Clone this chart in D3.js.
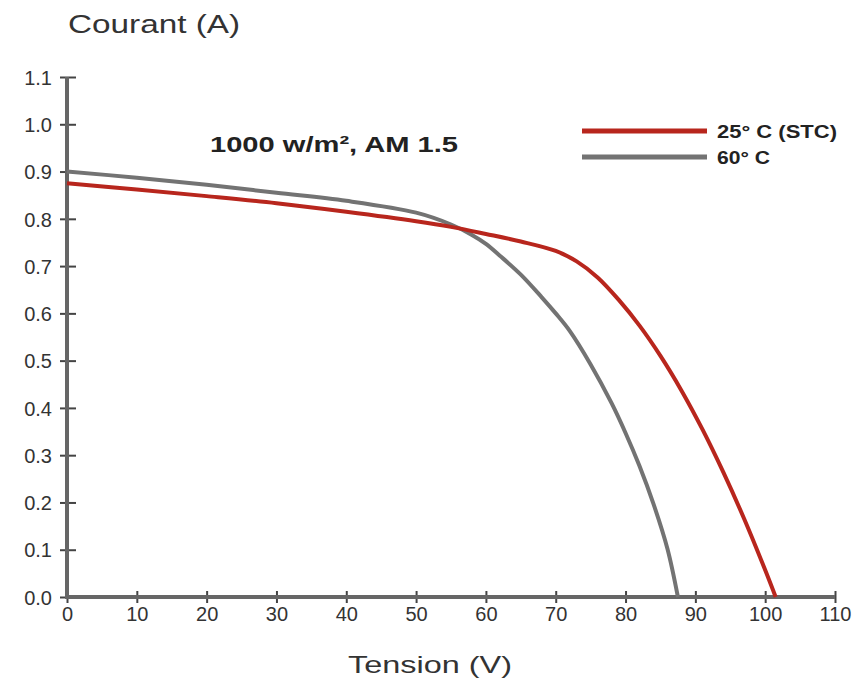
<!DOCTYPE html>
<html>
<head>
<meta charset="utf-8">
<script src="https://cdn.jsdelivr.net/npm/d3@7"></script>
<style>
  html, body { margin: 0; padding: 0; background: #fff; }
  svg { display: block; }
</style>
</head>
<body>
<svg id="chart" width="856" height="681"></svg>
<script>
// ---- data ----
const xTicks = [0, 10, 20, 30, 40, 50, 60, 70, 80, 90, 100, 110];
const yTicks = [0, 0.1, 0.2, 0.3, 0.4, 0.5, 0.6, 0.7, 0.8, 0.9, 1.0, 1.1];

const v25 = [0, 10, 20, 30, 40, 50, 55, 60, 65, 70, 73, 76, 79, 82, 85, 88, 91, 94, 97, 100, 101.5];
const i25 = [0.875, 0.862, 0.848, 0.833, 0.815, 0.795, 0.783, 0.768, 0.752, 0.732, 0.71, 0.676, 0.629, 0.574, 0.51, 0.437, 0.355, 0.264, 0.165, 0.057, 0];

const v60 = [0, 10, 20, 30, 40, 50, 55, 58, 60, 62, 65, 68, 70, 72, 75, 78, 80, 82, 84, 86, 87.5];
const i60 = [0.9, 0.887, 0.872, 0.855, 0.838, 0.813, 0.788, 0.766, 0.747, 0.722, 0.682, 0.634, 0.6, 0.563, 0.492, 0.41, 0.347, 0.277, 0.197, 0.102, 0];

const seriesNames = ["25° C (STC)", "60° C"];
const seriesColors = ["#b8261d", "#737373"];
const annotation = "1000 w/m², AM 1.5";
const yTitle = "Courant (A)";
const xTitle = "Tension (V)";

// ---- drawing ----
const svg = d3.select("#chart");
const x = d3.scaleLinear().domain([0, 110]).range([67, 835]);
const y = d3.scaleLinear().domain([0, 1.1]).range([597, 77]);

const font = "'Liberation Sans', Arial, Helvetica, sans-serif";

// Y axis
const yAxis = d3.axisLeft(y).tickValues(yTicks).tickFormat(d3.format(".1f")).tickSizeOuter(0).tickSizeInner(6);
const gy = svg.append("g").attr("transform", `translate(${x(0)},0)`).call(yAxis);
gy.select(".domain").remove();
gy.selectAll(".tick line").attr("x1", -7).attr("x2", 9).attr("stroke", "#444").attr("stroke-width", 2);
gy.selectAll(".tick text").attr("font-family", font).attr("font-size", 20).attr("fill", "#333").attr("x", -15).attr("dy", "0.36em");

// X axis
const xAxis = d3.axisBottom(x).tickValues(xTicks).tickFormat(d3.format("d")).tickSizeOuter(0).tickSizeInner(6);
const gx = svg.append("g").attr("transform", `translate(0,${y(0)})`).call(xAxis);
gx.select(".domain").remove();
gx.selectAll(".tick line").attr("y1", -6).attr("y2", 6).attr("stroke", "#444").attr("stroke-width", 2);
gx.selectAll(".tick text").attr("font-family", font).attr("font-size", 20).attr("fill", "#333").attr("y", 10);

// axis lines
svg.append("line").attr("x1", x(0)).attr("x2", x(0)).attr("y1", y(1.1)).attr("y2", y(0) + 2)
  .attr("stroke", "#666").attr("stroke-width", 4);
svg.append("line").attr("x1", x(0) - 2).attr("x2", x(110)).attr("y1", y(0)).attr("y2", y(0))
  .attr("stroke", "#666").attr("stroke-width", 4);

// curves
const line = d3.line().x(d => x(d[0])).y(d => y(d[1])).curve(d3.curveCatmullRom.alpha(0.5));
const series = [d3.zip(v60, i60), d3.zip(v25, i25)];
const colors = [seriesColors[1], seriesColors[0]];
series.forEach((s, k) => {
  svg.append("path").datum(s).attr("d", line)
    .attr("fill", "none").attr("stroke", colors[k]).attr("stroke-width", 4)
    .attr("stroke-linejoin", "round").attr("stroke-linecap", "butt");
});

// legend
const legY = [131, 157];
seriesNames.forEach((n, k) => {
  svg.append("line").attr("x1", 582).attr("x2", 707).attr("y1", legY[k]).attr("y2", legY[k])
    .attr("stroke", seriesColors[k]).attr("stroke-width", 5);
  svg.append("text").attr("x", 717).attr("y", legY[k] + 7)
    .attr("font-family", font).attr("font-weight", "bold").attr("font-size", 19).attr("fill", "#222")
    .attr("textLength", k === 0 ? 120 : 53).attr("lengthAdjust", "spacingAndGlyphs")
    .text(n);
});

// annotation
svg.append("text").attr("x", 210).attr("y", 152)
  .attr("font-family", font).attr("font-weight", "bold").attr("font-size", 22).attr("fill", "#222")
  .attr("textLength", 248).attr("lengthAdjust", "spacingAndGlyphs")
  .text(annotation);

// titles
svg.append("text").attr("x", 68).attr("y", 33)
  .attr("font-family", font).attr("font-size", 26).attr("fill", "#333")
  .attr("textLength", 172).attr("lengthAdjust", "spacingAndGlyphs")
  .text(yTitle);
svg.append("text").attr("x", 348).attr("y", 673)
  .attr("font-family", font).attr("font-size", 24).attr("fill", "#333")
  .attr("textLength", 164).attr("lengthAdjust", "spacingAndGlyphs")
  .text(xTitle);
</script>
</body>
</html>
